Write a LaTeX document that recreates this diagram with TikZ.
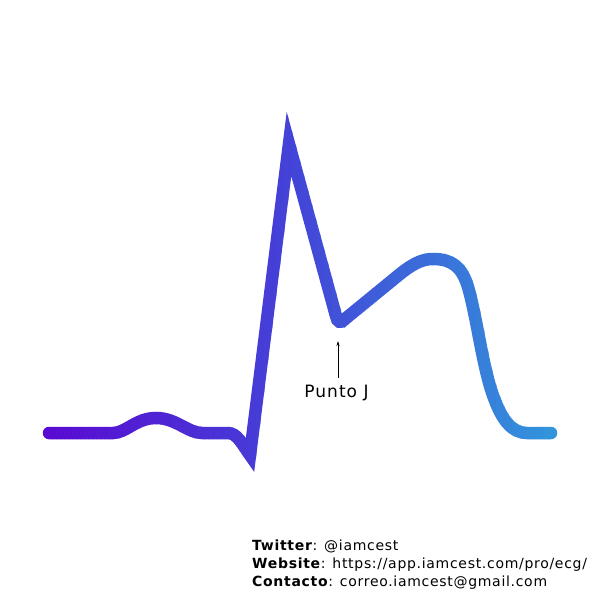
\documentclass[tikz,border=0pt]{standalone}
\usepackage{fontspec}
\setmainfont{DejaVu Sans}
\usetikzlibrary{arrows.meta}
\def\ecgpath{(49,433) -- (113,433) .. controls (126,433) and (136,418) .. (156,418) .. controls (176,418) and (188,433) .. (202,433) -- (228,433) .. controls (237,433) and (242,444) .. (250,455) -- (289,144) -- (336,316) .. controls (337,322) and (341,324) .. (345,319) -- (400,274) .. controls (415,262) and (424,259) .. (433,259) .. controls (452,259) and (462,267) .. (468,287) .. controls (477,318) and (483,370) .. (494,398) .. controls (502,420) and (512,433) .. (527,433) -- (551,433)}
\tikzset{
  ecgline/.style={line width=12.5pt, line join=miter, miter limit=12, line cap=round},
  foot/.style={anchor=base west, inner sep=0pt, font=\fontsize{14}{16}\selectfont\addfontfeature{LetterSpace=5}},
  lbl/.style={inner sep=0pt, font=\fontsize{17}{19}\selectfont\addfontfeature{LetterSpace=6}},
  ptr/.style={line width=0.7pt, -{Stealth[length=5pt,width=3pt]}}
}
\begin{document}
\begin{tikzpicture}[x=1pt,y=-1pt]
\useasboundingbox[fill=white] (0,0) rectangle (600,600);
\foreach \i in {0,...,131}{
  \pgfmathsetmacro{\xx}{36+4*\i}
  \pgfmathsetmacro{\t}{(\xx-40)/520}
  \pgfmathtruncatemacro{\rr}{\t<0.48 ? 90-22*\t/0.48 : 68-18*(\t-0.48)/0.52}
  \pgfmathtruncatemacro{\gg}{\t<0.48 ? 10+58*\t/0.48 : 68+84*(\t-0.48)/0.52}
  \pgfmathtruncatemacro{\bb}{\t<0.48 ? 210+6*\t/0.48 : 216+4*(\t-0.48)/0.52}
  \definecolor{cc}{RGB}{\rr,\gg,\bb}
  \begin{scope}
    \clip (\xx,0) rectangle (\xx+4.3,600);
    \draw[ecgline, draw=cc] \ecgpath;
  \end{scope}
}
\node[lbl] (pj) at (336.5,393) {Punto J};
\coordinate (jbase) at (338,378);
\coordinate (jtip) at (338,341);
\draw[ptr] (jbase) -- (jtip);
\node[foot] (tw) at (252,550) {\textbf{Twitter}: @iamcest};
\node[foot] (ws) at (252,568) {\textbf{Website}: https://app.iamcest.com/pro/ecg/};
\node[foot] (ct) at (252,586) {\textbf{Contacto}: correo.iamcest@gmail.com};
\end{tikzpicture}
\end{document}
